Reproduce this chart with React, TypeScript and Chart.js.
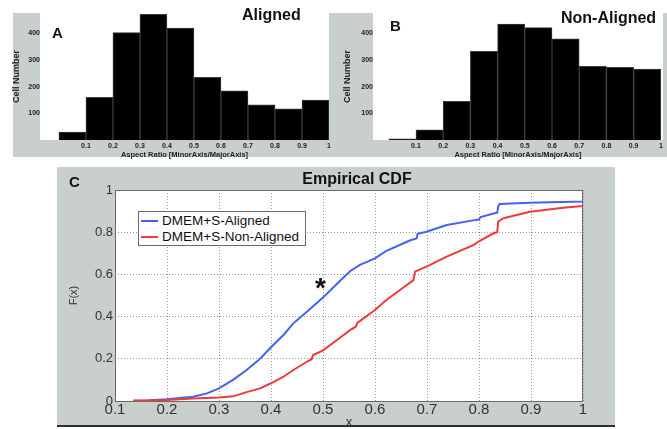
import React, { useEffect, useRef } from 'react';
import { Chart, registerables } from 'chart.js';

Chart.register(...registerables);

const FONT = '"Liberation Sans", Arial, Helvetica, sans-serif';

// ---------- Histogram data (panels A and B) ----------
const binCenters = [0.05, 0.15, 0.25, 0.35, 0.45, 0.55, 0.65, 0.75, 0.85, 0.95];
const alignedCounts = [30, 160, 403, 472, 420, 235, 185, 132, 117, 150];
const nonAlignedCounts = [4, 38, 145, 333, 435, 422, 380, 277, 273, 266];
const histXTicks = [0.1, 0.2, 0.3, 0.4, 0.5, 0.6, 0.7, 0.8, 0.9, 1];
const histXTickLabels = ['0.1', '0.2', '0.3', '0.4', '0.5', '0.6', '0.7', '0.8', '0.9', '1'];
const histYTicks = [100, 200, 300, 400];
const histYTickLabels = ['100', '200', '300', '400'];

// ---------- Empirical CDF data (panel C) ----------
const cdfAlignedX = [0.167, 0.2, 0.25, 0.277, 0.3, 0.327, 0.353, 0.379, 0.4, 0.424, 0.443, 0.469, 0.5, 0.527, 0.552, 0.571, 0.6, 0.622, 0.668, 0.68, 0.682, 0.699, 0.738, 0.789, 0.8, 0.803, 0.828, 0.835, 0.837, 0.84, 0.897, 1.0, 1.0];
const cdfAlignedF = [0.003, 0.008, 0.02, 0.036, 0.06, 0.1, 0.147, 0.2, 0.255, 0.313, 0.368, 0.423, 0.49, 0.556, 0.615, 0.645, 0.676, 0.712, 0.762, 0.77, 0.792, 0.802, 0.834, 0.856, 0.86, 0.872, 0.889, 0.893, 0.922, 0.934, 0.94, 0.945, 1.0];
const cdfNonAlignedX = [0.135, 0.2, 0.25, 0.3, 0.327, 0.353, 0.379, 0.4, 0.424, 0.443, 0.469, 0.478, 0.481, 0.5, 0.527, 0.552, 0.563, 0.566, 0.6, 0.62, 0.648, 0.674, 0.677, 0.706, 0.738, 0.789, 0.8, 0.828, 0.835, 0.837, 0.847, 0.898, 0.962, 1.0, 1.0];
const cdfNonAlignedF = [0.002, 0.005, 0.012, 0.017, 0.022, 0.042, 0.06, 0.084, 0.115, 0.147, 0.186, 0.198, 0.218, 0.24, 0.289, 0.336, 0.352, 0.37, 0.431, 0.475, 0.526, 0.573, 0.613, 0.645, 0.684, 0.739, 0.757, 0.795, 0.8, 0.85, 0.866, 0.897, 0.916, 0.924, 1.0];
const cdfXTicks = [0.1, 0.2, 0.3, 0.4, 0.5, 0.6, 0.7, 0.8, 0.9, 1];
const cdfXTickLabels = ['0.1', '0.2', '0.3', '0.4', '0.5', '0.6', '0.7', '0.8', '0.9', '1'];
const cdfYTicks = [0, 0.2, 0.4, 0.6, 0.8, 1];
const cdfYTickLabels = ['0', '0.2', '0.4', '0.6', '0.8', '1'];
const seriesNames = ['DMEM+S-Aligned', 'DMEM+S-Non-Aligned'];
const seriesColors = ['#4262f2', '#ee3a3a'];

const plotBg = {
  id: 'plotBg',
  beforeDraw(chart: any) {
    const { ctx, chartArea } = chart;
    ctx.save();
    ctx.fillStyle = '#ffffff';
    ctx.fillRect(chartArea.left, chartArea.top, chartArea.right - chartArea.left, chartArea.bottom - chartArea.top);
    ctx.restore();
  },
  afterDraw(chart: any, _args: any, opts: any) {
    if (!opts || !opts.border) return;
    const { ctx, chartArea } = chart;
    ctx.save();
    ctx.strokeStyle = opts.border;
    ctx.lineWidth = 1;
    ctx.setLineDash([]);
    ctx.strokeRect(Math.round(chartArea.left) + 0.5, Math.round(chartArea.top) + 0.5,
      Math.round(chartArea.right - chartArea.left) - 1, Math.round(chartArea.bottom - chartArea.top));
    ctx.restore();
  },
};

function histConfig(counts: number[], xMin: number, xMax: number, yWidth: number, yTitlePad: number, rightPad: number): any {
  return {
    type: 'bar',
    data: {
      datasets: [{
        data: binCenters.map((x, i) => ({ x, y: counts[i] })),
        backgroundColor: '#000000',
        borderColor: '#3c3c3c',
        borderWidth: 1,
        barPercentage: 1,
        categoryPercentage: 1,
      }],
    },
    options: {
      animation: false,
      responsive: false,
      devicePixelRatio: 1,
      layout: { padding: { top: 0, right: rightPad, bottom: 0, left: 0 } },
      plugins: { legend: { display: false }, tooltip: { enabled: false }, plotBg: {} },
      scales: {
        x: {
          type: 'linear', min: xMin, max: xMax, offset: false,
          grid: { display: false, drawTicks: false }, border: { display: false },
          afterBuildTicks: (s: any) => { s.ticks = histXTicks.map((v) => ({ value: v })); },
          afterFit: (s: any) => { s.height = 19; s.paddingLeft = 0; s.paddingRight = 0; },
          ticks: {
            autoSkip: false, maxRotation: 0, padding: 2, color: '#222',
            font: { family: FONT, size: 7, weight: 'bold' },
            callback: (_v: any, i: number) => histXTickLabels[i],
          },
          title: {
            display: true, text: 'Aspect Ratio [MinorAxis/MajorAxis]', color: '#222',
            font: { family: FONT, size: 7.5, weight: 'bold' }, padding: { top: 0, bottom: 0 },
          },
        },
        y: {
          min: 0, max: 477,
          grid: { display: false, drawTicks: false }, border: { display: false },
          afterBuildTicks: (s: any) => { s.ticks = histYTicks.map((v) => ({ value: v })); },
          afterFit: (s: any) => { s.width = yWidth; s.paddingTop = 0; s.paddingBottom = 0; },
          ticks: {
            padding: 0, color: '#222',
            font: { family: FONT, size: 7, weight: 'bold' },
            callback: (_v: any, i: number) => histYTickLabels[i],
          },
          title: {
            display: true, text: 'Cell Number', color: '#222',
            font: { family: FONT, size: 9, weight: 'bold' }, padding: { top: yTitlePad, bottom: 0 },
          },
        },
      },
    },
    plugins: [plotBg],
  };
}

function cdfConfig(): any {
  const xs = [cdfAlignedX, cdfNonAlignedX];
  const fs = [cdfAlignedF, cdfNonAlignedF];
  return {
    type: 'line',
    data: {
      datasets: seriesNames.map((name, k) => ({
        label: name,
        data: xs[k].map((x, i) => ({ x, y: fs[k][i] })),
        borderColor: seriesColors[k],
        backgroundColor: seriesColors[k],
        borderWidth: 2,
        pointRadius: 0,
        tension: 0,
        fill: false,
        order: k === 0 ? 1 : 0,
      })),
    },
    options: {
      animation: false,
      responsive: false,
      devicePixelRatio: 1,
      layout: { padding: { top: 23, right: 32, bottom: 0, left: 0 } },
      plugins: { legend: { display: false }, tooltip: { enabled: false }, plotBg: { border: '#6a6a6a' } },
      scales: {
        x: {
          type: 'linear', min: 0.1, max: 1,
          grid: { display: true, color: '#9a9a9a', lineWidth: 1, drawTicks: false },
          border: { display: false, dash: [1, 2] },
          afterBuildTicks: (s: any) => { s.ticks = cdfXTicks.map((v) => ({ value: v })); },
          afterFit: (s: any) => { s.height = 24; s.paddingLeft = 0; s.paddingRight = 0; },
          ticks: {
            autoSkip: false, maxRotation: 0, padding: 0, color: '#333',
            font: { family: FONT, size: 15 },
            callback: (_v: any, i: number) => cdfXTickLabels[i],
          },
          title: {
            display: true, text: 'x', color: '#333',
            font: { family: FONT, size: 13 }, padding: { top: 0, bottom: -5 },
          },
        },
        y: {
          type: 'linear', min: 0, max: 1,
          grid: { display: true, color: '#9a9a9a', lineWidth: 1, drawTicks: false },
          border: { display: false, dash: [1, 2] },
          afterBuildTicks: (s: any) => { s.ticks = cdfYTicks.map((v) => ({ value: v })); },
          afterFit: (s: any) => { s.width = 58; },
          ticks: {
            padding: 2, color: '#333',
            font: { family: FONT, size: 13 },
            callback: (_v: any, i: number) => cdfYTickLabels[i],
          },
          title: {
            display: true, text: 'F(x)', color: '#333',
            font: { family: FONT, size: 11 }, padding: { top: 10, bottom: 0 },
          },
        },
      },
    },
    plugins: [plotBg],
  };
}

function ChartCanvas(props: { make: () => any; left: number; top: number; width: number; height: number }) {
  const ref = useRef<HTMLCanvasElement>(null);
  useEffect(() => {
    const chart = new Chart(ref.current as HTMLCanvasElement, props.make());
    return () => chart.destroy();
  }, []);
  return (
    <canvas
      ref={ref}
      width={props.width}
      height={props.height}
      style={{ position: 'absolute', left: props.left, top: props.top, width: props.width, height: props.height }}
    />
  );
}

function Label(props: { text: string; left: number; top: number; size: number; center?: boolean; weight?: string; color?: string }) {
  return (
    <div
      style={{
        position: 'absolute', left: props.left, top: props.top, fontFamily: FONT, fontSize: props.size,
        fontWeight: (props.weight || 'bold') as any, lineHeight: 1, whiteSpace: 'nowrap', color: props.color || '#111',
        transform: props.center ? 'translateX(-50%)' : undefined,
      }}
    >
      {props.text}
    </div>
  );
}

export default function App() {
  const gray = '#c9cfcc';
  return (
    <div style={{ position: 'absolute', left: 0, top: 0, width: 667, height: 429, background: '#fff', overflow: 'hidden' }}>
      {/* panel backgrounds */}
      <div style={{ position: 'absolute', left: 13, top: 13, width: 320, height: 144, background: gray }} />
      <div style={{ position: 'absolute', left: 328, top: 13, width: 339, height: 144, background: gray }} />
      <div style={{ position: 'absolute', left: 57, top: 167, width: 558, height: 258, background: gray, borderBottom: '2px solid #2e2e2e' }} />

      <ChartCanvas make={() => histConfig(alignedCounts, -0.07, 1.0, 32, 3, 4)} left={8} top={13} width={325} height={146} />
      <ChartCanvas make={() => histConfig(nonAlignedCounts, -0.058, 1.008, 39, 8, 4)} left={334} top={13} width={333} height={146} />
      <ChartCanvas make={cdfConfig} left={57} top={167} width={558} height={258} />

      {/* panel labels */}
      <Label text="A" left={52} top={25} size={15} />
      <Label text="Aligned" left={242} top={7} size={16} />
      <Label text="B" left={390} top={18} size={15} />
      <Label text="Non-Aligned" left={561} top={10} size={16} />
      <Label text="C" left={69} top={174} size={15} />
      <Label text="Empirical CDF" left={357} top={171} size={16} center />
      <Label text="*" left={315} top={274} size={28} />

      {/* legend */}
      <div style={{
        position: 'absolute', left: 138, top: 211, width: 166, height: 33, background: '#fff',
        border: '1px solid #6a6a6a', fontFamily: FONT, fontSize: 13.5, color: '#111',
      }}>
        {seriesNames.map((name, k) => (
          <div key={name} style={{ position: 'absolute', left: 0, top: 1 + k * 16, height: 16, display: 'flex', alignItems: 'center' }}>
            <div style={{ marginLeft: 2, width: 17, height: 2, background: seriesColors[k] }} />
            <div style={{ marginLeft: 4, whiteSpace: 'nowrap', lineHeight: '16px' }}>{name}</div>
          </div>
        ))}
      </div>
    </div>
  );
}
